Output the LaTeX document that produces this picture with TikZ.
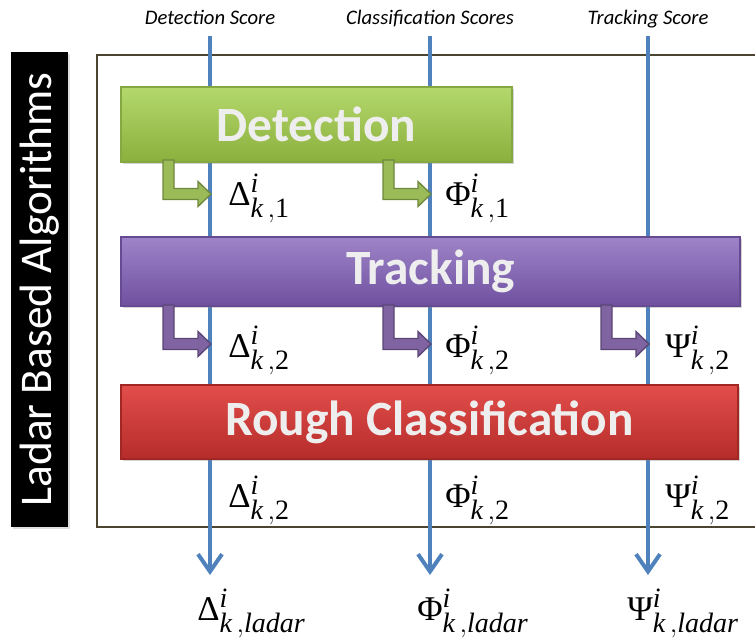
\documentclass[tikz,border=0pt]{standalone}
\usepackage{amsmath}
\usepackage{fontspec}
\setmainfont{Liberation Serif}
\newfontfamily\calibri{Carlito}
\DeclareMathSizes{26}{26}{21}{16}
\usetikzlibrary{arrows.meta,shadows}
\definecolor{lineblue}{HTML}{4F81BD}
\definecolor{frameol}{HTML}{4A4430}
\definecolor{gtop}{HTML}{B4D86C}
\definecolor{gbot}{HTML}{8BB03D}
\definecolor{gbrd}{HTML}{86A843}
\definecolor{ptop}{HTML}{9E84C8}
\definecolor{pbot}{HTML}{6F50A0}
\definecolor{pbrd}{HTML}{664A92}
\definecolor{rtop}{HTML}{E24E4B}
\definecolor{rbot}{HTML}{B52C2A}
\definecolor{rbrd}{HTML}{A02724}
\definecolor{garrf}{HTML}{9BBB59}
\definecolor{garrd}{HTML}{6E883C}
\definecolor{parrf}{HTML}{8064A2}
\definecolor{parrd}{HTML}{5A4575}
\definecolor{boxtxt}{HTML}{EEEEEE}
\newcommand\bentarr[4]{%
  \begin{scope}[shift={(#1,#2)}]
    \filldraw[#4] (-48,#3) -- (-37,#3) -- (-37,-5.5) -- (-13,-5.5) -- (-13,-12.5)
      -- (0,0) -- (-13,12.5) -- (-13,5.5) -- (-48,5.5) -- cycle;
  \end{scope}}
\newcommand\subk[1]{\text{\itshape k}\,,#1}
\tikzset{
  scoreline/.style={line width=3pt, draw=lineblue, -{Straight Barb[length=13pt,width=18pt,line width=3pt]}},
  scoretop/.style={font=\calibri\itshape\fontsize{15.5}{17}\selectfont, inner sep=0pt, anchor=base},
  procbox/.style={inner sep=0pt, line width=0.8pt, drop shadow={opacity=0.35, shadow xshift=1.5pt, shadow yshift=-1.5pt},
    font=\calibri\bfseries\fontsize{37}{40}\selectfont, text=boxtxt},
  mathlab/.style={inner sep=0pt, anchor=base west, font=\fontsize{26}{30}\selectfont},
  garrow/.style={fill=garrf, draw=garrd, line width=1pt, line join=miter},
  parrow/.style={fill=parrf, draw=parrd, line width=1pt, line join=miter},
}
\begin{document}
\begin{tikzpicture}[x=0.75pt,y=-0.75pt]
\useasboundingbox (0,0) rectangle (755,639);
% side label
\node[fill=black, minimum width=42.75pt, minimum height=356.25pt, inner sep=0pt,
  drop shadow={opacity=0.25, shadow xshift=1.5pt, shadow yshift=-1.5pt}] (side) at (39.5,289.5) {};
\node[rotate=90, text=white, font=\calibri\fontsize{34}{36}\selectfont, inner sep=0pt] (sidetxt) at (side.center) {Ladar Based Algorithms};
% frame
\draw[frameol, line width=1.5pt] (760,55) -- (97,55) -- (97,527) -- (760,527);
% top labels
\node[scoretop] (lD) at (210,24) {Detection Score};
\node[scoretop] (lC) at (430,24) {Classification Scores};
\node[scoretop] (lT) at (648,24) {Tracking Score};
% blue lines
\coordinate (tD) at (210,36); \coordinate (eD) at (210,575);
\coordinate (tC) at (430,36); \coordinate (eC) at (430,575);
\coordinate (tT) at (648,36); \coordinate (eT) at (648,575);
\draw[scoreline] (tD) -- (eD);
\draw[scoreline] (tC) -- (eC);
\draw[scoreline] (tT) -- (eT);
% boxes
\node[procbox, top color=gtop, bottom color=gbot, draw=gbrd, minimum width=293.25pt, minimum height=56.25pt] (det) at (316.5,124.5) {Detection};
\node[procbox, top color=ptop, bottom color=pbot, draw=pbrd, minimum width=464.25pt, minimum height=51.75pt] (trk) at (430.5,271.5) {Tracking};
\node[procbox, top color=rtop, bottom color=rbot, draw=rbrd, minimum width=462.75pt, minimum height=55.5pt] (rgh) at (429.5,422) {Rough Classification};
% bent arrows
\bentarr{211}{194}{-34}{garrow}
\bentarr{431}{194}{-34}{garrow}
\bentarr{211}{344}{-39}{parrow}
\bentarr{431}{344}{-39}{parrow}
\bentarr{649}{344}{-39}{parrow}
% labels
\node[mathlab] (d1) at (228,205) {$\text{Δ}^{\textit{i}}_{\subk{\text{1}}}$};
\node[mathlab] (f1) at (445,205) {$\text{Φ}^{\textit{i}}_{\subk{\text{1}}}$};
\node[mathlab] (d2) at (228,357) {$\text{Δ}^{\textit{i}}_{\subk{\text{2}}}$};
\node[mathlab] (f2) at (445,357) {$\text{Φ}^{\textit{i}}_{\subk{\text{2}}}$};
\node[mathlab] (p2) at (665,357) {$\text{Ψ}^{\textit{i}}_{\subk{\text{2}}}$};
\node[mathlab] (d3) at (228,507) {$\text{Δ}^{\textit{i}}_{\subk{\text{2}}}$};
\node[mathlab] (f3) at (445,507) {$\text{Φ}^{\textit{i}}_{\subk{\text{2}}}$};
\node[mathlab] (p3) at (665,507) {$\text{Ψ}^{\textit{i}}_{\subk{\text{2}}}$};
\node[mathlab] (dl) at (197,620) {$\text{Δ}^{\textit{i}}_{\subk{\textit{ladar}}}$};
\node[mathlab] (fl) at (417,620) {$\text{Φ}^{\textit{i}}_{\subk{\textit{ladar}}}$};
\node[mathlab] (pl) at (627,620) {$\text{Ψ}^{\textit{i}}_{\subk{\textit{ladar}}}$};
\end{tikzpicture}
\end{document}
